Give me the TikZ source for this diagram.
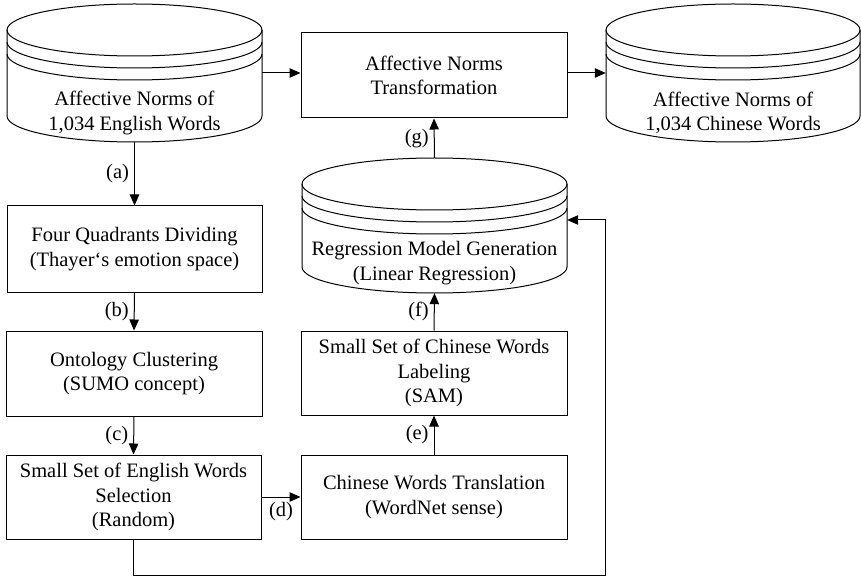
\documentclass[tikz,border=0pt]{standalone}
\usepackage{fontspec}
\setmainfont{Liberation Serif}
\usetikzlibrary{arrows.meta,calc}

% database symbol: a cylinder with two rings under its lid
% #1 left x, #2 right x, #3 top y, #4 bottom y (pixels, y downwards)
\newcommand\dbshape[4]{%
  \pgfmathsetmacro\dbrx{(#2-#1)/2}%
  \pgfmathsetmacro\dbcx{(#1+#2)/2}%
  \pgfmathsetmacro\dbtop{-(#3)-26}%
  \pgfmathsetmacro\dbbot{-(#4)+26}%
  \draw[thinline] (\dbcx,\dbtop) ellipse [x radius=\dbrx, y radius=26];
  \draw[thinline] (#1,\dbtop-12) arc[start angle=180,end angle=360,x radius=\dbrx,y radius=26];
  \draw[thinline] (#1,\dbtop-24) arc[start angle=180,end angle=360,x radius=\dbrx,y radius=26];
  \draw[thinline] (#1,\dbtop) -- (#1,\dbbot)
     arc[start angle=180,end angle=360,x radius=\dbrx,y radius=26] -- (#2,\dbtop);
}

\begin{document}
\begin{tikzpicture}[x=1pt,y=1pt,
  thinline/.style={line width=1pt},
  txt/.style={font=\fontsize{20.5}{24.5}\selectfont, align=center},
  procbox/.style={draw, line width=1pt, txt, inner sep=0pt, minimum height=#1},
  dbarea/.style={inner sep=0pt, minimum width=#1},
  arr/.style={line width=1pt, -{Triangle[length=11pt,width=9.5pt]}},
  lbl/.style={font=\fontsize{20.5}{24.5}\selectfont, inner sep=2pt}
]
\useasboundingbox (0,0) rectangle (861,-577);

% databases
\dbshape{7}{262}{4}{142}
\dbshape{606}{860}{4}{142}
\dbshape{302}{567}{158}{293}
\node[dbarea=255, minimum height=138] (en) at (134.5,-73) {};
\node[dbarea=254, minimum height=138] (cn) at (733,-73) {};
\node[dbarea=265, minimum height=135] (reg) at (434.5,-225.5) {};
\node[txt] (entxt) at (134.5,-113) {Affective Norms of\\1,034 English Words};
\node[txt] (cntxt) at (733,-113) {Affective Norms of\\1,034 Chinese Words};
\node[txt] (regtxt) at (434.5,-263) {Regression Model Generation\\(Linear Regression)};

% process boxes
\node[procbox=86, minimum width=255] (quad) at (134.5,-249) {Four Quadrants Dividing\\(Thayer`s emotion space)};
\node[procbox=85, minimum width=256] (onto) at (134,-373.5) {Ontology Clustering\\(SUMO concept)};
\node[procbox=84, minimum width=255] (sel) at (133.5,-497) {Small Set of English Words\\Selection\\(Random)};
\node[procbox=84, minimum width=266] (trans) at (434,-497) {Chinese Words Translation\\(WordNet sense)};
\node[procbox=84, minimum width=266] (lab) at (434,-373) {Small Set of Chinese Words\\Labeling\\(SAM)};
\node[procbox=85, minimum width=266] (tf) at (434,-75.5) {Affective Norms\\Transformation};

% connectors
\draw[arr] (en.south) -- node[lbl, left=3pt] {(a)} (quad.north);
\draw[arr] (quad.south) -- node[lbl, left=3pt] {(b)} (onto.north);
\draw[arr] (onto.south) -- node[lbl, left=3pt] {(c)} (sel.north);
\draw[arr] (sel.east) -- node[lbl, below=3pt] {(d)} (trans.west);
\draw[arr] (trans.north) -- node[lbl, left=3pt] {(e)} (lab.south);
\draw[arr] (lab.north) -- node[lbl, left=3pt] {(f)} (reg.south);
\draw[arr] (reg.north) -- node[lbl, left=3pt] {(g)} (tf.south);
\draw[arr] (en.east) -- (en.east -| tf.west);
\draw[arr] (tf.east |- en.east) -- (cn.west);

% feedback from the selected words to the regression model
\coordinate (fb) at (605,-575);
\draw[arr] (sel.south) |- (fb) |- ([yshift=5.5pt]reg.east);
\end{tikzpicture}
\end{document}
